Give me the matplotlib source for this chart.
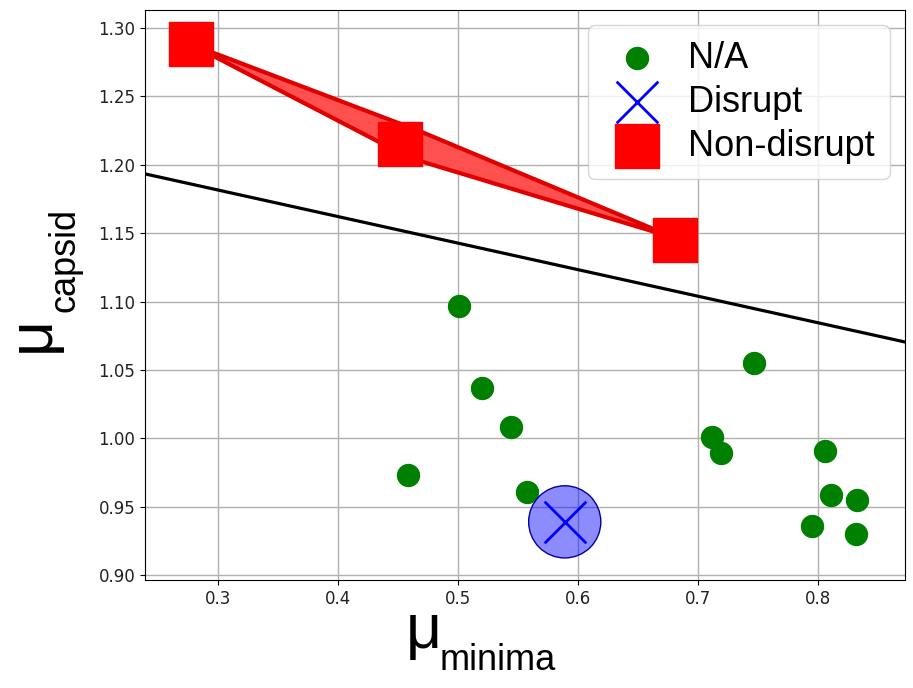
import matplotlib.pyplot as plt
from matplotlib.patches import Polygon
import numpy as np

# N/A points
na_x = [0.501, 0.520, 0.544, 0.5575, 0.458, 0.712, 0.719, 0.747, 0.806, 0.811, 0.833, 0.795, 0.832]
na_y = [1.097, 1.037, 1.008, 0.961, 0.973, 1.001, 0.989, 1.055, 0.991, 0.959, 0.955, 0.936, 0.930]
# Disrupt
dis_x = [0.589]
dis_y = [0.939]
# Non-disrupt
non_x = [0.277, 0.4517, 0.681]
non_y = [1.2883, 1.2152, 1.1450]
# shaded region around the non-disrupt points
hull_x = [0.277, 0.468, 0.681, 0.460]
hull_y = [1.2883, 1.2247, 1.1465, 1.2050]
# separating line (two end points)
line_x = [0.20, 0.90]
line_y = [1.2010, 1.0652]

fig = plt.figure(figsize=(9.13, 6.88), dpi=100)
ax = fig.add_axes([0.159, 0.157, 0.832, 0.828])

ax.grid(True, color='#b0b0b0', linewidth=1)
ax.set_axisbelow(True)

ax.plot(line_x, line_y, color='black', linewidth=2.3, zorder=2)

poly = Polygon(np.column_stack([hull_x, hull_y]), closed=True,
               facecolor='#ff5050', edgecolor='#e00000', linewidth=3, zorder=3)
ax.add_patch(poly)

ax.scatter(na_x, na_y, s=250, color='green', zorder=4, label='N/A')
ax.scatter(dis_x, dis_y, s=2700, color='blue', alpha=0.45, edgecolor='none', zorder=4)
ax.scatter(dis_x, dis_y, s=2700, facecolor='none', edgecolor='#0000a0', linewidth=1, zorder=4)
ax.scatter(dis_x, dis_y, s=900, marker='x', color='blue', linewidth=2, zorder=5, label='Disrupt')
ax.scatter(non_x, non_y, s=1000, marker='s', color='red', zorder=5, label='Non-disrupt')

ax.set_xlim(0.2392, 0.8725)
ax.set_ylim(0.8965, 1.313)
ax.set_xticks([0.3, 0.4, 0.5, 0.6, 0.7, 0.8])
ax.set_yticks([0.90, 0.95, 1.00, 1.05, 1.10, 1.15, 1.20, 1.25, 1.30])
ax.tick_params(labelsize=12, labelcolor='#222222')

# axis labels: big mu with a smaller subscript
lab = {'family': 'Liberation Sans', 'color': 'black'}
fig.text(0.4447, 0.0581, 'μ', fontsize=45, ha='left', va='baseline', **lab)
fig.text(0.4814, 0.0262, 'minima', fontsize=26, ha='left', va='baseline', **lab)
fig.text(0.0537, 0.4884, 'μ', fontsize=45, rotation=90, rotation_mode='anchor',
         ha='left', va='baseline', **lab)
fig.text(0.0821, 0.5472, 'capsid', fontsize=26, rotation=90, rotation_mode='anchor',
         ha='left', va='baseline', **lab)

leg = ax.legend(loc='upper right', prop={'family': 'Liberation Sans', 'size': 26},
                markerscale=1.0, handlelength=1.9, handletextpad=0.45, borderpad=0.42,
                labelspacing=0.25, borderaxespad=0.42)

plt.savefig('out.png', dpi=100)
